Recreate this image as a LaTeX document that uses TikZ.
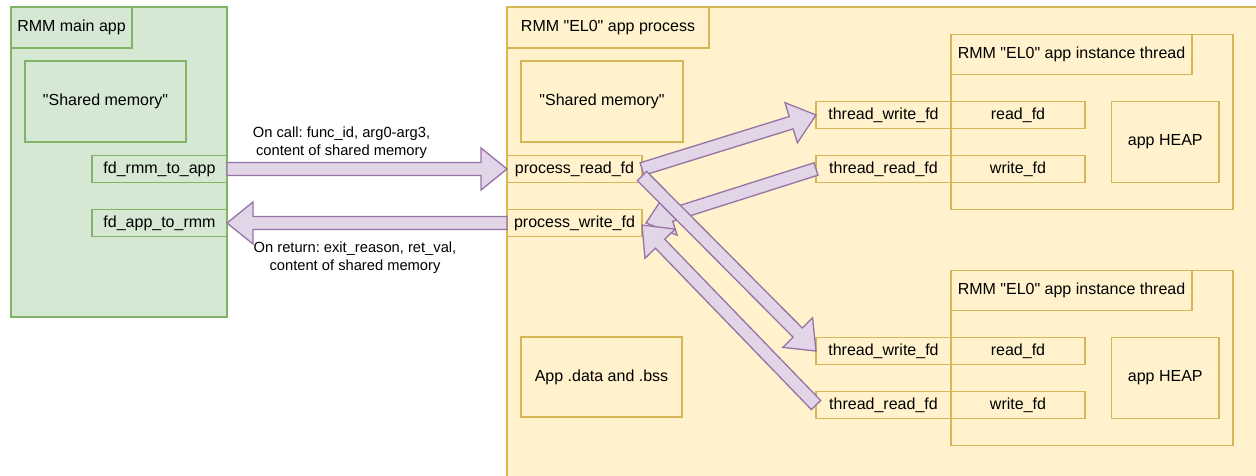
\documentclass[tikz,border=0pt]{standalone}
\usepackage{fontspec}
\setmainfont{Liberation Sans}[Ligatures=TeXOff]
\frenchspacing
\usetikzlibrary{calc}
\definecolor{gfill}{HTML}{D5E8D4}
\definecolor{gline}{HTML}{82B366}
\definecolor{yfill}{HTML}{FFF2CC}
\definecolor{yline}{HTML}{D6B656}
\definecolor{pfill}{HTML}{E1D5E7}
\definecolor{pline}{HTML}{9673A6}
\tikzset{
  bx/.style={rectangle, draw, line width=1.3pt, inner sep=0pt, outer sep=0pt,
    anchor=north west, align=center, font=\fontsize{16}{19}\selectfont},
  gbox/.style={bx, draw=gline, fill=gfill},
  ybox/.style={bx, draw=yline, fill=yfill},
  lbl/.style={align=center, inner sep=0pt, font=\fontsize{14.7}{18.5}\selectfont\frenchspacing},
  fat/.style={draw=pline, fill=pfill, line width=1.3pt, line join=miter},
}
% box from (x1,y1) to (x2,y2), y downward in px
\newcommand\bx[7]{\node[#6, minimum width={#4pt-#2pt}, minimum height={#5pt-#3pt}] (#1) at (#2,#3) {#7};}
\newcommand\fatarrow[2]{%
  \coordinate (fa-b) at ($(#2)!26pt!(#1)$);
  \draw[fat] ($(#1)!6.5pt!90:(#2)$) -- ($(fa-b)!6.5pt!90:(#2)$) -- ($(fa-b)!21pt!90:(#2)$)
    -- (#2) -- ($(fa-b)!21pt!-90:(#2)$) -- ($(fa-b)!6.5pt!-90:(#2)$) -- ($(#1)!6.5pt!-90:(#2)$) -- cycle;}
\begin{document}
\begin{tikzpicture}[x=1pt, y=-1pt]
\useasboundingbox (0,0) rectangle (1256,475);
\clip (0,0) rectangle (1256,475);
\fill[white] (0,0) rectangle (1256,475);
% RMM main app
\bx{G}{11}{7}{227}{317}{gbox}{}
\bx{Gt}{11}{7}{132}{48}{gbox}{RMM main app}
\bx{Gshm}{25}{61}{186}{142}{gbox}{"Shared memory"}
\bx{frta}{92}{155.5}{227}{182.5}{gbox}{fd\_rmm\_to\_app}
\bx{fatr}{92}{209.5}{227}{236.5}{gbox}{fd\_app\_to\_rmm}
% RMM EL0 app process
\bx{Y}{507}{7}{1300}{520}{ybox}{}
\bx{Yt}{507}{7}{709}{48}{ybox}{RMM "EL0" app process}
\bx{Yshm}{521}{61}{683}{142}{ybox}{"Shared memory"}
\bx{prf}{507}{155.5}{642}{182.5}{ybox}{process\_read\_fd}
\bx{pwf}{507}{209.5}{642}{236.5}{ybox}{process\_write\_fd}
\bx{data}{521}{337}{682}{417}{ybox}{App .data and .bss}
% thread 1
\bx{T1}{951}{34.5}{1233}{209.5}{ybox}{}
\bx{T1t}{951}{34.5}{1192}{74.5}{ybox}{RMM "EL0" app instance thread}
\bx{tw1}{816}{101.5}{951}{128.5}{ybox}{thread\_write\_fd}
\bx{rd1}{951}{101.5}{1085}{128.5}{ybox}{read\_fd}
\bx{tr1}{816}{155.5}{951}{182.5}{ybox}{thread\_read\_fd}
\bx{wr1}{951}{155.5}{1085}{182.5}{ybox}{write\_fd}
\bx{heap1}{1111.5}{101.5}{1219}{182.5}{ybox}{app HEAP}
% thread 2
\bx{T2}{951}{270.5}{1233}{445.5}{ybox}{}
\bx{T2t}{951}{270.5}{1192}{310.5}{ybox}{RMM "EL0" app instance thread}
\bx{tw2}{816}{337.5}{951}{364.5}{ybox}{thread\_write\_fd}
\bx{rd2}{951}{337.5}{1085}{364.5}{ybox}{read\_fd}
\bx{tr2}{816}{391.5}{951}{418.5}{ybox}{thread\_read\_fd}
\bx{wr2}{951}{391.5}{1085}{418.5}{ybox}{write\_fd}
\bx{heap2}{1111.5}{337.5}{1219}{418.5}{ybox}{app HEAP}
% labels
\node[lbl] (lcall) at (341.5,142.5) {On call: func\_id, arg0-arg3,\\content of shared memory};
\node[lbl] (lret) at (355,257.5) {On return: exit\_reason, ret\_val,\\content of shared memory};
% arrows
\fatarrow{frta.east}{prf.west}
\fatarrow{pwf.west}{fatr.east}
\coordinate (prfC) at ([yshift=-7pt]prf.east);
\coordinate (pwfD) at ([yshift=-2pt]pwf.east);
\coordinate (pwfB) at ([xshift=4pt]pwf.east);
\fatarrow{prf.east}{tw1.west}
\fatarrow{tr1.west}{pwfB}
\fatarrow{tr2.west}{pwfD}
\fatarrow{prfC}{tw2.west}
\end{tikzpicture}
\end{document}
